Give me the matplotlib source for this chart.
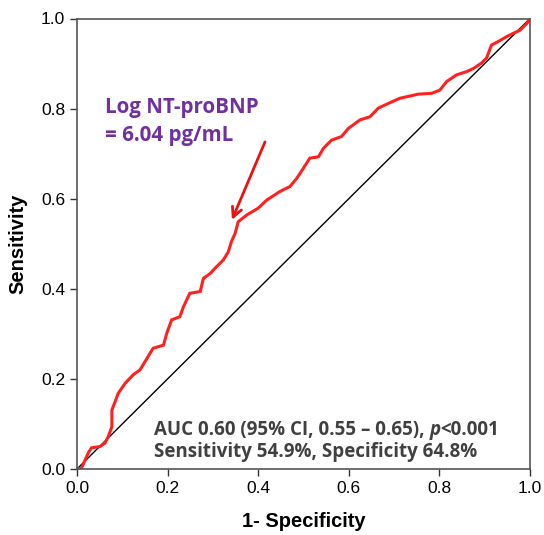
"""ROC curve for Log NT-proBNP."""

import matplotlib

matplotlib.use("Agg")
import matplotlib.pyplot as plt
from matplotlib.transforms import offset_copy

# 1 - specificity / sensitivity
FPR = [0.000, 0.010, 0.018, 0.025, 0.032, 0.051, 0.062, 0.069, 0.077, 0.077,
       0.084, 0.091, 0.106, 0.124, 0.139, 0.150, 0.168, 0.191, 0.198, 0.209,
       0.227, 0.235, 0.249, 0.272, 0.279, 0.294, 0.308, 0.323, 0.334, 0.341,
       0.349, 0.356, 0.375, 0.400, 0.419, 0.448, 0.470, 0.485, 0.500, 0.514,
       0.533, 0.544, 0.562, 0.584, 0.599, 0.625, 0.647, 0.665, 0.684, 0.713,
       0.753, 0.783, 0.801, 0.816, 0.838, 0.860, 0.875, 0.893, 0.904, 0.915,
       0.930, 0.949, 0.963, 0.978, 0.993, 1.000]
TPR = [0.000, 0.002, 0.020, 0.036, 0.047, 0.050, 0.058, 0.072, 0.094, 0.131,
       0.149, 0.168, 0.190, 0.209, 0.220, 0.238, 0.268, 0.275, 0.301, 0.331,
       0.338, 0.360, 0.390, 0.394, 0.423, 0.434, 0.449, 0.464, 0.482, 0.505,
       0.523, 0.549, 0.564, 0.579, 0.597, 0.616, 0.627, 0.645, 0.668, 0.690,
       0.693, 0.712, 0.730, 0.738, 0.756, 0.775, 0.782, 0.801, 0.810, 0.823,
       0.832, 0.834, 0.841, 0.860, 0.875, 0.882, 0.889, 0.901, 0.912, 0.941,
       0.949, 0.960, 0.967, 0.974, 0.989, 1.000]

TICKS = [0.0, 0.2, 0.4, 0.6, 0.8, 1.0]
CUTOFF_LABEL = "Log NT-proBNP\n= 6.04 pg/mL"
CUTOFF_POINT = (0.342, 0.553)
ARROW_TAIL = (0.415, 0.726)
AUC_TEXT = "AUC 0.60 (95% CI, 0.55 \u2013 0.65), "
P_TEXT = "<0.001"
SENS_SPEC_TEXT = "Sensitivity 54.9%, Specificity 64.8%"

ANNOT_FONT = ["Open Sans", "DejaVu Sans"]
AXIS_FONT = ["Liberation Sans", "DejaVu Sans"]


def main() -> int:
    fig = plt.figure(figsize=(5.44, 5.35), dpi=100)
    ax = fig.add_axes([77 / 544, 1 - 469 / 535, 453 / 544, 450.5 / 535])

    ax.plot([0, 1], [0, 1], color="black", lw=1.0)
    ax.plot(FPR, TPR, color="#ff2020", lw=2.2, solid_joinstyle="miter")

    ax.set_xlim(0, 1)
    ax.set_ylim(0, 1)
    ax.set_xticks(TICKS, [f"{t:.1f}" for t in TICKS])
    ax.set_yticks(TICKS, [f"{t:.1f}" for t in TICKS])
    ax.tick_params(direction="out", length=5, width=1, color="#333333",
                   labelsize=12.5, labelcolor="black")
    for label in ax.get_xticklabels() + ax.get_yticklabels():
        label.set_family(AXIS_FONT)
    for spine in ax.spines.values():
        spine.set_color("#555555")
        spine.set_linewidth(1.2)

    ax.set_xlabel("1- Specificity", family=AXIS_FONT, fontsize=14.5,
                  fontweight="bold", labelpad=12)
    ax.set_ylabel("Sensitivity", family=AXIS_FONT, fontsize=14.5,
                  fontweight="bold", labelpad=10)

    ax.text(0.062, 0.771, CUTOFF_LABEL, color="#7030a0", fontsize=14.8,
            fontweight="bold", family=ANNOT_FONT, va="center", linespacing=1.4)
    ax.annotate("", xy=CUTOFF_POINT, xytext=ARROW_TAIL,
                arrowprops=dict(arrowstyle="->,head_length=0.7,head_width=0.35",
                                color="#ee1111", lw=2.0, shrinkA=0, shrinkB=0))

    # AUC line with italic p
    fig.canvas.draw()
    renderer = fig.canvas.get_renderer()
    style = dict(color="#404040", fontsize=13.5, fontweight="bold",
                 family=ANNOT_FONT, va="center")
    t1 = ax.text(0.170, 0.087, AUC_TEXT, **style)
    w1 = t1.get_window_extent(renderer).width
    t2 = ax.text(0.170, 0.087, "p", fontstyle="italic",
                 transform=offset_copy(ax.transData, fig=fig, x=w1, y=0, units="dots"),
                 **style)
    w2 = t2.get_window_extent(renderer).width
    ax.text(0.170, 0.087, P_TEXT,
            transform=offset_copy(ax.transData, fig=fig, x=w1 + w2, y=0, units="dots"),
            **style)
    ax.text(0.170, 0.038, SENS_SPEC_TEXT, **style)

    fig.savefig("out.png", dpi=100)
    plt.close(fig)
    return 0


if __name__ == "__main__":
    raise SystemExit(main())
